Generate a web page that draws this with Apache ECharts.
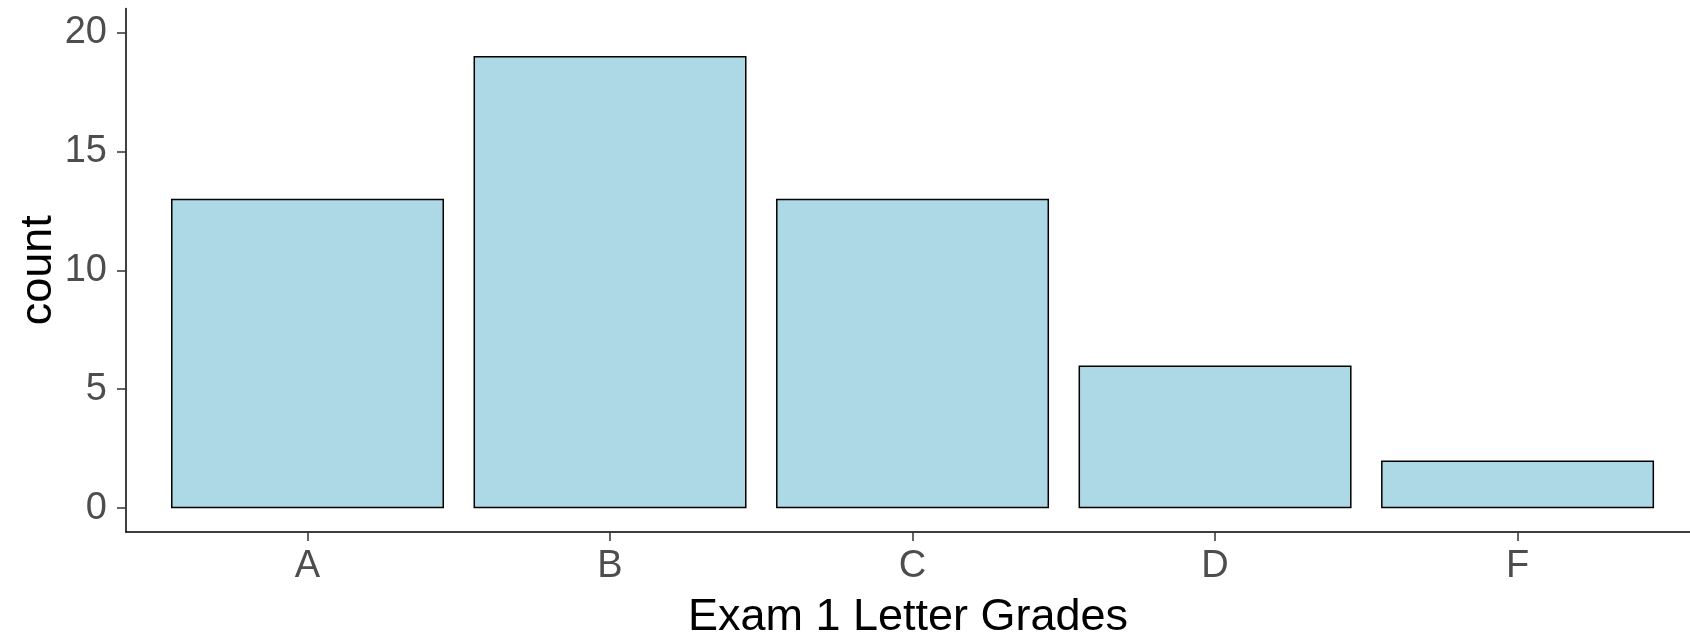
<!DOCTYPE html>
<html>
<head>
<meta charset="utf-8">
<script src="https://cdn.jsdelivr.net/npm/echarts@6/dist/echarts.min.js"></script>
<style>
  html, body { margin: 0; padding: 0; background: #fff; }
  #chart { width: 1690px; height: 643px; }
</style>
</head>
<body>
<div id="chart"></div>
<script>
// letter grades and how many students got each
const grades = ['A', 'B', 'C', 'D', 'F']
const counts = [13, 19, 13, 6, 2]
const yTicks = [0, 5, 10, 15, 20]
const xPos = [1, 2, 3, 4, 5]

const font = 'Liberation Sans, Arial, sans-serif'

const chart = echarts.init(document.getElementById('chart'))
chart.setOption({
  animation: false,
  grid: {
    left: 126,
    right: 0,
    top: 8.5,
    bottom: 111,
    containLabel: false,
    outerBoundsMode: 'none'
  },
  xAxis: {
    type: 'value',
    min: 0.4,
    max: 5.57,
    name: 'Exam 1 Letter Grades',
    nameLocation: 'middle',
    nameGap: 63,
    nameMoveOverlap: false,
    nameTextStyle: { color: '#000', fontSize: 45, fontFamily: font },
    axisLine: { show: true, onZero: false, lineStyle: { color: '#000', width: 1.5 } },
    axisTick: { show: true, length: 9, customValues: xPos, lineStyle: { color: '#333', width: 1.5 } },
    axisLabel: {
      customValues: xPos,
      formatter: v => grades[v - 1],
      color: '#4d4d4d',
      fontSize: 38,
      fontFamily: font,
      margin: 16
    },
    splitLine: { show: false }
  },
  yAxis: {
    type: 'value',
    min: -1,
    max: 21,
    name: 'count',
    nameLocation: 'middle',
    nameRotate: 90,
    nameGap: 65,
    nameMoveOverlap: false,
    nameTextStyle: { color: '#000', fontSize: 45, fontFamily: font },
    axisLine: { show: true, onZero: false, lineStyle: { color: '#000', width: 1.5 } },
    axisTick: { show: true, length: 9, customValues: yTicks, lineStyle: { color: '#333', width: 1.5 } },
    axisLabel: {
      customValues: yTicks,
      color: '#4d4d4d',
      fontSize: 38,
      fontFamily: font,
      margin: 19
    },
    splitLine: { show: false }
  },
  series: [
    {
      type: 'bar',
      barWidth: 273,
      itemStyle: {
        color: '#ADD8E6',
        borderColor: '#000',
        borderWidth: 1.5
      },
      data: xPos.map((x, i) => [x, counts[i]])
    }
  ]
})
</script>
</body>
</html>
